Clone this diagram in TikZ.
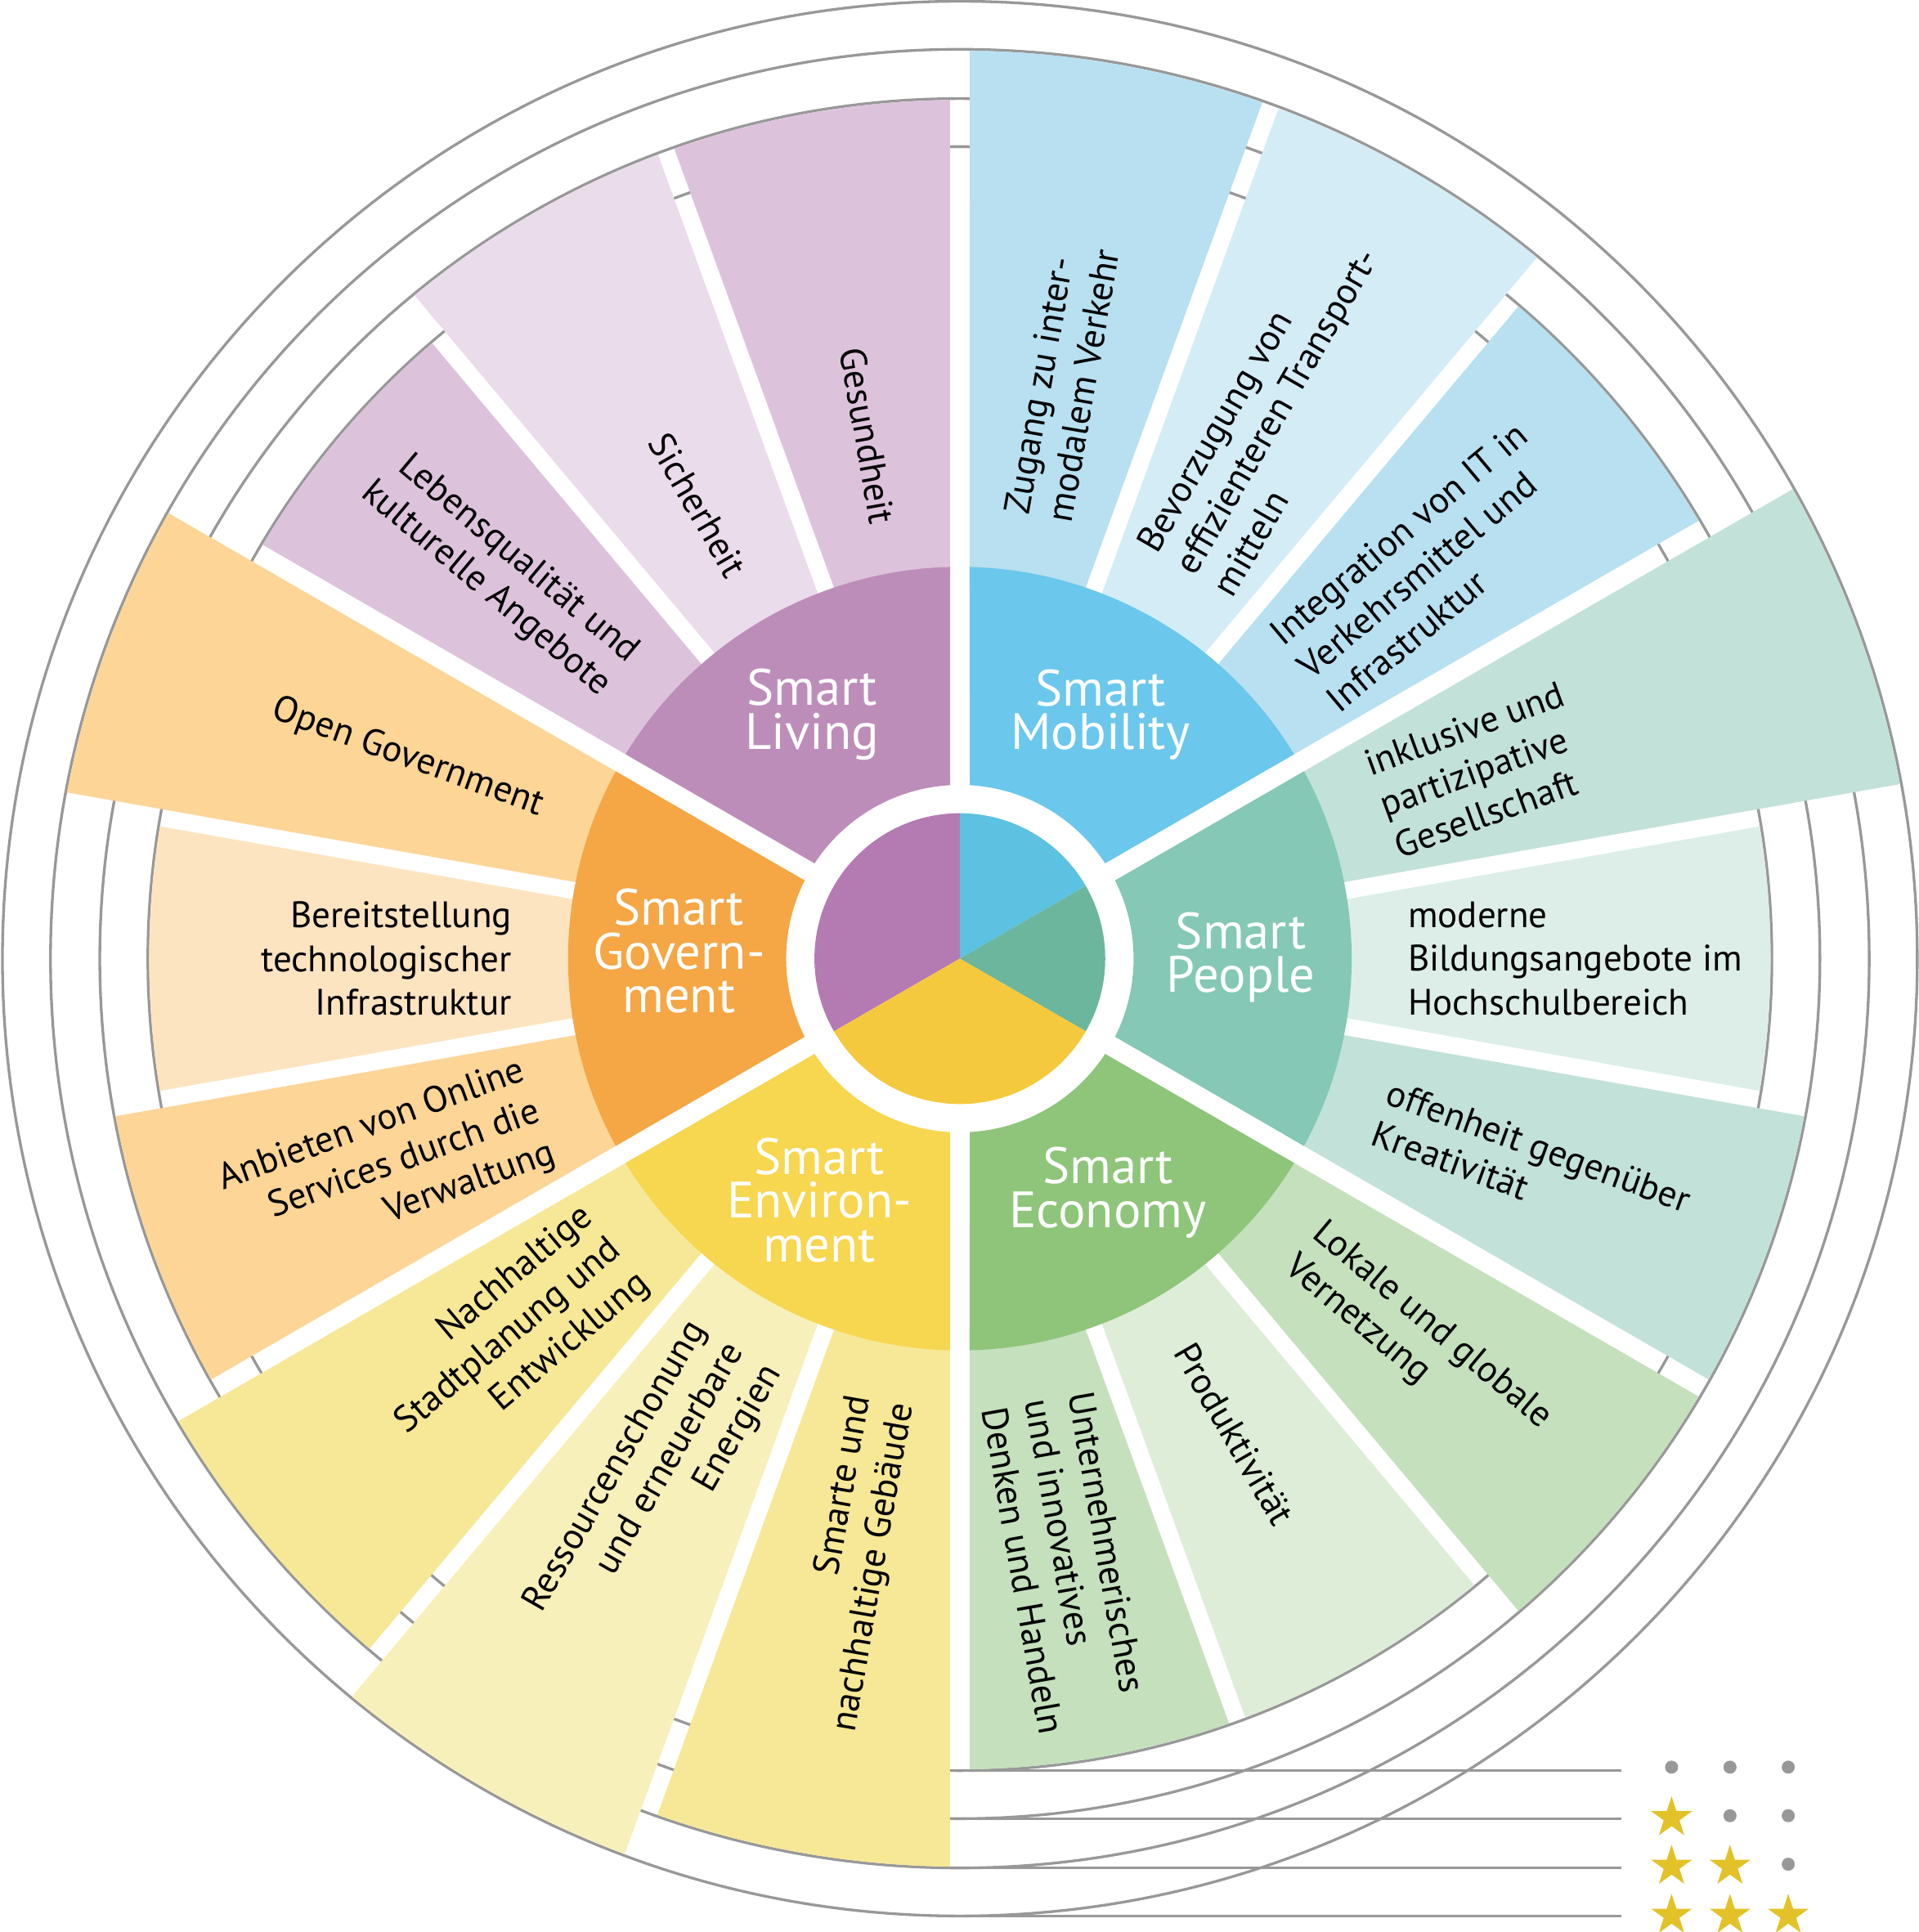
\documentclass[tikz,border=0pt]{standalone}
\usepackage{fontspec}
\setmainfont{PT Sans}
\usetikzlibrary{shapes.geometric}
\definecolor{ringgray}{RGB}{152,152,152}
\definecolor{livM}{HTML}{BD8DB9}
\definecolor{livD}{HTML}{DCC3DB}
\definecolor{livL}{HTML}{EADCEA}
\definecolor{mobM}{HTML}{6BC7EC}
\definecolor{mobD}{HTML}{B8E0F0}
\definecolor{mobL}{HTML}{D4ECF6}
\definecolor{peoM}{HTML}{84C8B5}
\definecolor{peoD}{HTML}{C2E1D9}
\definecolor{peoL}{HTML}{DDEEE8}
\definecolor{ecoM}{HTML}{8EC57A}
\definecolor{ecoD}{HTML}{C5E0BD}
\definecolor{ecoL}{HTML}{DEEDD8}
\definecolor{envM}{HTML}{F7D650}
\definecolor{envD}{HTML}{F6E896}
\definecolor{envL}{HTML}{F8F0BA}
\definecolor{govM}{HTML}{F5A645}
\definecolor{govD}{HTML}{FCD597}
\definecolor{govL}{HTML}{FDE4C0}
\definecolor{pieP}{HTML}{B47AB2}
\definecolor{pieB}{HTML}{5DC1E1}
\definecolor{pieG}{HTML}{6BB69D}
\definecolor{pieY}{HTML}{F5C93D}
\definecolor{starY}{RGB}{226,194,40}

% outer segment: #1 start angle, #2 end angle, #3 outer radius, #4 colour, #5/#6 half gaps
\newcommand\outerseg[6]{%
  \pgfmathsetmacro\SgA{#1+asin(#5/#3)}%
  \pgfmathsetmacro\SgB{#2-asin(#6/#3)}%
  \pgfmathsetmacro\SgC{#1+asin(#5/300)}%
  \pgfmathsetmacro\SgD{#2-asin(#6/300)}%
  \fill[#4] (\SgC:300) -- (\SgA:#3) arc[start angle=\SgA, end angle=\SgB, radius=#3] -- (\SgD:300) -- cycle;}
% middle sector: #1 start angle, #2 end angle, #3 colour
\newcommand\midseg[3]{%
  \pgfmathsetmacro\SgA{#1+asin(8/318)}%
  \pgfmathsetmacro\SgB{#2-asin(8/318)}%
  \pgfmathsetmacro\SgC{#1+asin(8/141)}%
  \pgfmathsetmacro\SgD{#2-asin(8/141)}%
  \fill[#3] (\SgC:141) -- (\SgA:318) arc[start angle=\SgA, end angle=\SgB, radius=318] -- (\SgD:141) arc[start angle=\SgD, end angle=\SgC, radius=141] -- cycle;}

\begin{document}
\begin{tikzpicture}[x=0.01cm, y=0.01cm,
  ring/.style={draw=ringgray, line width=0.022cm},
  outerlabel/.style={font=\fontsize{8.5}{10.1}\selectfont, inner sep=0pt, text=black},
  outR/.style={outerlabel, anchor=west, align=left},
  outL/.style={outerlabel, anchor=east, align=right},
  midlabel/.style={font=\fontsize{11.8}{10.1}\selectfont, text=white, align=center, inner sep=0pt},
  starm/.style={star, star points=5, star point ratio=2.618, fill=starY, draw=none, inner sep=0pt, minimum size=0.35cm},
  dotm/.style={circle, fill=ringgray, draw=none, inner sep=0pt, minimum size=0.106cm}]
\useasboundingbox (-779,-790) rectangle (778,778);

% rings
\foreach \r in {659,698,738,777} \draw[ring] (0,0) circle[radius=\r];
% legend lines
\foreach \r in {659,698,738,777} \draw[ring] (-8,-\r) -- (537,-\r);

% ---- outer segments ----
% Living 90..150
\outerseg{90}{110}{697}{livD}{8}{7}
\outerseg{110}{130}{697}{livL}{7}{7}
\outerseg{130}{150}{658}{livD}{7}{8}
% Mobility 30..90
\outerseg{30}{50}{697}{mobD}{8}{7}
\outerseg{50}{70}{737}{mobL}{7}{7}
\outerseg{70}{90}{737}{mobD}{7}{8}
% People -30..30
\outerseg{-30}{-10}{697}{peoD}{8}{7}
\outerseg{-10}{10}{658}{peoL}{7}{7}
\outerseg{10}{30}{776}{peoD}{7}{8}
% Economy -90..-30
\outerseg{-90}{-70}{658}{ecoD}{8}{7}
\outerseg{-70}{-50}{658}{ecoL}{7}{7}
\outerseg{-50}{-30}{697}{ecoD}{7}{8}
% Environment 210..270
\outerseg{210}{230}{737}{envD}{8}{7}
\outerseg{230}{250}{776}{envL}{7}{7}
\outerseg{250}{270}{737}{envD}{7}{8}
% Government 150..210
\outerseg{150}{170}{737}{govD}{8}{7}
\outerseg{170}{190}{658}{govL}{7}{7}
\outerseg{190}{210}{697}{govD}{7}{8}

% ---- middle sectors ----
\midseg{90}{150}{livM}
\midseg{30}{90}{mobM}
\midseg{-30}{30}{peoM}
\midseg{-90}{-30}{ecoM}
\midseg{210}{270}{envM}
\midseg{150}{210}{govM}

% ---- pie ----
\fill[pieP] (0,0) -- (90:118) arc[start angle=90, end angle=210, radius=118] -- cycle;
\fill[pieB] (0,0) -- (30:118) arc[start angle=30, end angle=90, radius=118] -- cycle;
\fill[pieG] (0,0) -- (-30:118) arc[start angle=-30, end angle=30, radius=118] -- cycle;
\fill[pieY] (0,0) -- (210:118) arc[start angle=210, end angle=330, radius=118] -- cycle;

% ---- middle labels ----
\node[midlabel] (mLiv) at (-120,198) {Smart\\Living};
\node[midlabel] (mMob) at (114,198) {Smart\\Mobility};
\node[midlabel] (mPeo) at (228,1) {Smart\\People};
\node[midlabel] (mEco) at (120,-190) {Smart\\Economy};
\node[midlabel] (mEnv) at (-114,-196) {Smart\\Environ-\\ment};
\node[midlabel] (mGov) at (-228,6) {Smart\\Govern-\\ment};

% ---- outer labels, right side ----
\node[outR, rotate=80] (tZug) at (80:363) {Zugang zu inter-\\modalem Verkehr};
\node[outR, rotate=60] (tBev) at (60:363) {Bevorzugung von\\effizienteren Transport-\\mitteln};
\node[outR, rotate=40] (tInt) at (40:363) {Integration von IT in\\Verkehrsmittel und\\Infrastruktur};
\node[outR, rotate=20] (tInk) at (20:363) {inklusive und\\partizipative\\Gesellschaft};
\node[outR, rotate=0] (tMod) at (0:363) {moderne\\Bildungsangebote im\\Hochschulbereich};
\node[outR, rotate=-20] (tOff) at (-20:363) {offenheit gegenüber\\Kreativität};
\node[outR, rotate=-40] (tLok) at (-40:363) {Lokale und globale\\Vernetzung};
\node[outR, rotate=-60] (tPro) at (-60:363) {Produktivität};
\node[outR, rotate=-80] (tUnt) at (-80:363) {Unternehmerisches\\und innovatives\\Denken und Handeln};
% ---- outer labels, left side ----
\node[outL, rotate=-80] (tGes) at (100:358) {Gesundheit};
\node[outL, rotate=-60] (tSic) at (120:360) {Sicherheit};
\node[outL, rotate=-40] (tLeb) at (140:360) {Lebensqualität und\\kulturelle Angebote};
\node[outL, rotate=-20] (tOpe) at (160:360) {Open Government};
\node[outL, rotate=0] (tBer) at (180:363) {Bereitstellung\\technologischer\\Infrastruktur};
\node[outL, rotate=20] (tAnb) at (200:363) {Anbieten von Online\\Services durch die\\Verwaltung};
\node[outL, rotate=40] (tNac) at (220:363) {Nachhaltige\\Stadtplanung und\\Entwicklung};
\node[outL, rotate=60] (tRes) at (240:363) {Ressourcenschonung\\und erneuerbare\\Energien};
\node[outL, rotate=80] (tSma) at (260:363) {Smarte und\\nachhaltige Gebäude};

% ---- legend marks ----
\node[dotm] (d11) at (577.6,-656.2) {};
\node[dotm] (d12) at (625,-656.2) {};
\node[dotm] (d13) at (672.3,-656.2) {};
\node[starm] (s21) at (577.6,-697.3) {};
\node[dotm] (d22) at (625,-695.6) {};
\node[dotm] (d23) at (672.3,-695.6) {};
\node[starm] (s31) at (577.6,-736.7) {};
\node[starm] (s32) at (625,-736.7) {};
\node[dotm] (d33) at (672.3,-735) {};
\node[starm] (s41) at (577.6,-776.5) {};
\node[starm] (s42) at (625,-776.5) {};
\node[starm] (s43) at (672.3,-776.5) {};
\end{tikzpicture}
\end{document}
